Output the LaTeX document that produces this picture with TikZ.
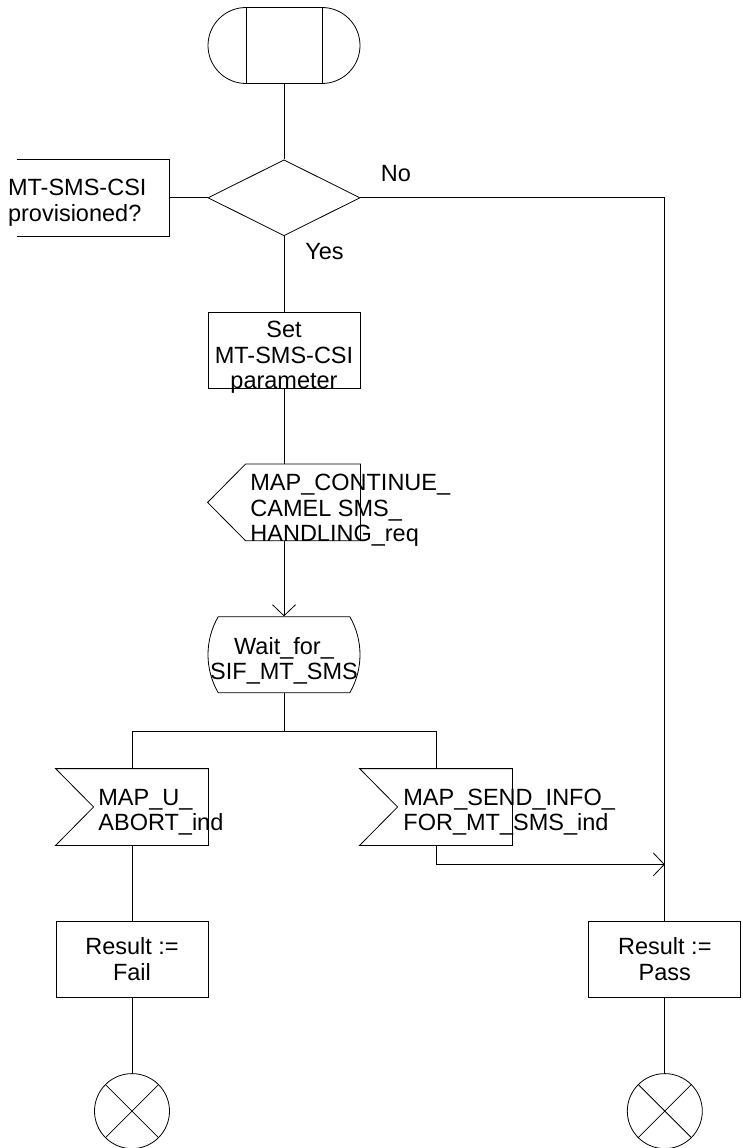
\documentclass[tikz,border=0pt]{standalone}
\usepackage{fontspec}
\setmainfont{Liberation Sans}
\usetikzlibrary{positioning, calc, shapes.geometric, shapes.misc, arrows.meta}

\begin{document}
\begin{tikzpicture}[
      font=\fontsize{23.5pt}{25.5pt}\selectfont,
      line width=0.8pt,
      node distance=75.5pt and 38pt,
      box/.style={rectangle, draw, minimum width=152pt, minimum height=76pt, inner sep=0pt, align=center},
      startsym/.style={rounded rectangle, draw, minimum width=152pt, minimum height=76pt, inner sep=0pt},
      decision/.style={diamond, draw, aspect=2, minimum width=152pt, minimum height=76pt, inner sep=0pt},
      waitstate/.style={rounded rectangle, rounded rectangle arc length=60, draw, minimum width=152pt, minimum height=76pt, inner sep=0pt},
      frame/.style={rectangle, minimum width=152pt, minimum height=76pt, inner sep=0pt},
      stopsym/.style={circle, draw, minimum size=75pt, inner sep=0pt},
      txt/.style={inner sep=0pt, align=left},
      arrow/.style={-{Straight Barb[length=11pt, width=23pt]}}
    ]
      \useasboundingbox (0,0) rectangle (742pt,-1148pt);

      % main column
      \node[startsym] (start) at (284pt,-45.5pt) {};
      \node[decision, below=of start] (dec) {};
      \node[frame, left=of dec] (csi) {};
      \node[box, below=of dec] (set) {};
      \node[frame, below=of set] (cont) {};
      \node[waitstate, below=of cont] (wait) {};
      \coordinate[below=38pt of wait] (split);
      \node[frame, below=of wait, xshift=-152pt] (abort) {};
      \node[frame, below=of wait, xshift=152pt] (sendinfo) {};
      \node[box, below=of abort] (fail) {Result :=\\Fail};
      \node[box, right=380pt of fail] (pass) {Result :=\\Pass};
      \node[stopsym, below=of fail] (stopfail) {};
      \node[stopsym, below=of pass] (stoppass) {};

      % texts
      \node[txt, anchor=west] (csiT) at ($(csi.center)+(-85.5pt,-5pt)$) {MT-SMS-CSI\\provisioned?};
      \node[txt, align=center] (setT) at ($(set.center)+(0,-7.5pt)$) {Set\\MT-SMS-CSI\\parameter};
      \node[txt, anchor=west] (contT) at ($(cont.center)+(-34pt,-8pt)$) {MAP\_CONTINUE\_\\CAMEL SMS\_\\HANDLING\_req};
      \node[txt, align=center] (waitT) at ($(wait.center)+(0,-6pt)$) {Wait\_for\_\\SIF\_MT\_SMS};
      \node[txt, anchor=west] (abortT) at ($(abort.center)+(-34pt,-5pt)$) {MAP\_U\_\\ABORT\_ind};
      \node[txt, anchor=west] (sendinfoT) at ($(sendinfo.center)+(-33pt,-5pt)$) {MAP\_SEND\_INFO\_\\FOR\_MT\_SMS\_ind};
      \node[txt] (no) at ($(dec.east)+(35.5pt,24.5pt)$) {No};
      \node[txt] (yes) at ($(dec.south)+(40.5pt,-15pt)$) {Yes};

      % symbol details
      \draw ($(start.north)+(-38pt,0)$) -- ($(start.south)+(-38pt,0)$);
      \draw ($(start.north)+(38pt,0)$) -- ($(start.south)+(38pt,0)$);
      \draw (csi.north west) -- (csi.north east) -- (csi.south east) -- (csi.south west);
      % output signal
      \draw ($(cont.north west)+(38pt,0)$) -- (cont.north east) -- (cont.south east)
        -- ($(cont.south west)+(38pt,0)$) -- (cont.west) -- cycle;
      % input signals
      \foreach \s in {abort, sendinfo} {
        \draw (\s.north west) -- (\s.north east) -- (\s.south east) -- (\s.south west)
          -- ($(\s.west)+(38pt,0)$) -- cycle;
      }
      \foreach \s in {stopfail, stoppass} {
        \draw (\s.north west) -- (\s.south east);
        \draw (\s.north east) -- (\s.south west);
      }

      % connectors
      \draw (start) -- (dec);
      \draw (csi.east) -- (dec.west);
      \draw (dec.east) -| (pass.north);
      \draw (dec) -- (set);
      \draw (set) -- (cont);
      \draw[arrow] (cont.south) -- (wait.north);
      \draw (wait) -- (split);
      \draw (abort.north) |- (split) -| (sendinfo.north);
      \coordinate[below=19pt of sendinfo] (join);
      \draw[arrow] (sendinfo.south) -- (join) -- (join -| pass);
      \draw (abort) -- (fail);
      \draw (fail) -- (stopfail);
      \draw (pass) -- (stoppass);
    \end{tikzpicture}
\end{document}
